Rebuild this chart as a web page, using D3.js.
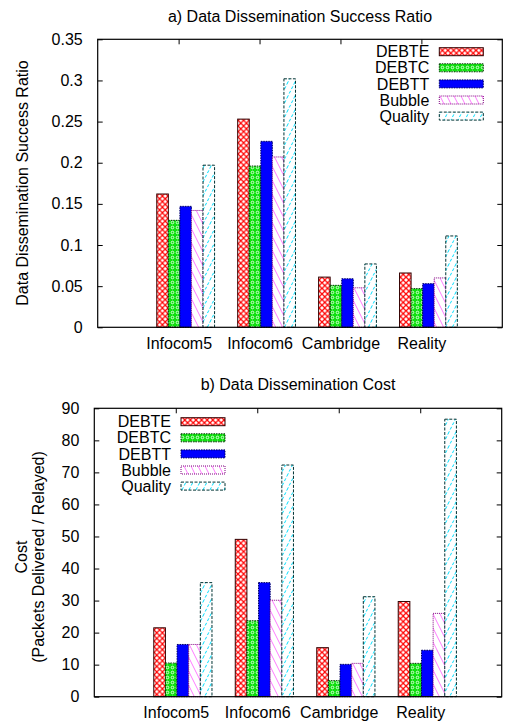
<!DOCTYPE html>
<html><head><meta charset="utf-8">
<script src="https://cdn.jsdelivr.net/npm/d3@7"></script>
<style>body{margin:0;background:#fff}svg{display:block;font-family:"Liberation Sans",Arial,sans-serif}</style>
</head><body><svg id="c" width="508" height="721"></svg>
<script>
const categories = ["Infocom5","Infocom6","Cambridge","Reality"];
const seriesNames = ["DEBTE","DEBTC","DEBTT","Bubble","Quality"];
// a) success ratio
const ratioDEBTE   = [0.162,0.253,0.061,0.066];
const ratioDEBTC   = [0.130,0.196,0.051,0.047];
const ratioDEBTT   = [0.147,0.226,0.059,0.053];
const ratioBubble  = [0.142,0.207,0.048,0.060];
const ratioQuality = [0.197,0.302,0.077,0.111];
const ratioTicks = [0,0.05,0.1,0.15,0.2,0.25,0.3,0.35];
// b) cost
const costDEBTE   = [21.5,49.1,15.3,29.7];
const costDEBTC   = [10.5,23.7,5.0,10.4];
const costDEBTT   = [16.3,35.6,10.1,14.5];
const costBubble  = [16.3,30.1,10.4,26.0];
const costQuality = [35.6,72.3,31.2,86.6];
const costTicks = [0,10,20,30,40,50,60,70,80,90];

const svg = d3.select("#c");
const defs = svg.append("defs");

function pat(id,w,h,bg){const p=defs.append("pattern").attr("id",id).attr("patternUnits","userSpaceOnUse").attr("width",w).attr("height",h);
  p.append("rect").attr("width",w).attr("height",h).attr("fill",bg);return p;}
let p=pat("pE",5.6,5.6,"#fff");
p.append("path").attr("d","M0,0L5.6,5.6M5.6,0L0,5.6").attr("stroke","#ff0000").attr("stroke-width",1.2);
p=pat("pC",5,5,"#10e010");
p.append("circle").attr("cx",2.5).attr("cy",2.5).attr("r",1.3).attr("fill","none").attr("stroke","#fff").attr("stroke-width",0.8);
p=pat("pT",4,4,"#0000ff");
p=pat("pB",7,14,"#fff");
p.append("path").attr("d","M0,0L7,14M-7,0L0,14M7,0L14,14").attr("stroke","#ff40ff").attr("stroke-width",0.7);
p=pat("pQ",7,14,"#fff");
p.append("path").attr("d","M0,14L7,0M-7,14L0,0M7,14L14,0").attr("stroke","#00e0ff").attr("stroke-width",1).attr("stroke-dasharray","3,2");

const styles = [
  {fill:"url(#pE)", stroke:"#300", dash:null},
  {fill:"url(#pC)", stroke:"#030", dash:"1.5,1"},
  {fill:"url(#pT)", stroke:"#000060", dash:"1.5,1"},
  {fill:"url(#pB)", stroke:"#800080", dash:"1,1"},
  {fill:"url(#pQ)", stroke:"#033", dash:"3,1.5"}
];

const fmt = d => String(+d.toFixed(2));

function chart(cfg){
  const {L,R,T,B,ymax,ticks,series,title,titleY,legX,legY} = cfg;
  const g = svg.append("g");
  const x = d3.scaleLinear().domain([-1,4]).range([L,R]);
  const y = d3.scaleLinear().domain([0,ymax]).range([B,T]);
  const u = x(1)-x(0);
  g.append("text").attr("x",(L+R)/2).attr("y",titleY).attr("text-anchor","middle").attr("dy","0.35em").attr("font-size",16).text(title);
  g.append("g").attr("transform",`translate(${L},0)`).call(d3.axisLeft(y).tickValues(ticks).tickSize(-5).tickPadding(15).tickFormat(fmt))
    .call(a=>{a.select(".domain").remove();a.selectAll("text").attr("font-size",16).attr("font-family","Liberation Sans,Arial,sans-serif");});
  g.append("g").attr("transform",`translate(${R},0)`).call(d3.axisRight(y).tickValues(ticks).tickSize(-5).tickFormat(""))
    .call(a=>a.select(".domain").remove());
  g.append("g").attr("transform",`translate(0,${T})`).call(d3.axisTop(x).tickValues([0,1,2,3]).tickSize(-5).tickFormat(""))
    .call(a=>a.select(".domain").remove());
  g.append("g").attr("transform",`translate(0,${B})`).call(d3.axisBottom(x).tickValues([0,1,2,3]).tickSize(0).tickPadding(10).tickFormat(i=>categories[i]))
    .call(a=>{a.select(".domain").remove();a.selectAll("text").attr("font-size",16).attr("font-family","Liberation Sans,Arial,sans-serif");});
  series.forEach((vals,j)=>{
    const st = styles[j];
    g.append("g").selectAll("rect").data(vals).join("rect")
      .attr("x",(d,i)=>x(i-0.27+j/7)).attr("width",u/7)
      .attr("y",d=>y(d)).attr("height",d=>B-y(d))
      .attr("fill",st.fill).attr("stroke",st.stroke).attr("stroke-width",1)
      .attr("stroke-dasharray",st.dash);
  });
  g.append("rect").attr("x",L).attr("y",T).attr("width",R-L).attr("height",B-T).attr("fill","none").attr("stroke","#000").attr("stroke-width",1.2);
  const lg = g.append("g");
  seriesNames.forEach((n,j)=>{
    const cy = legY + j*16.1;
    lg.append("text").attr("x",legX-10).attr("y",cy).attr("dy","0.35em").attr("text-anchor","end").attr("font-size",16).text(n);
    const st = styles[j];
    lg.append("rect").attr("x",legX).attr("y",cy-4).attr("width",44).attr("height",8)
      .attr("fill",st.fill).attr("stroke",st.stroke).attr("stroke-width",1).attr("stroke-dasharray",st.dash);
  });
  return g;
}

chart({L:97.7,R:502.3,T:39.3,B:327.3,ymax:0.35,ticks:ratioTicks,
  series:[ratioDEBTE,ratioDEBTC,ratioDEBTT,ratioBubble,ratioQuality],
  title:"a) Data Dissemination Success Ratio",titleY:16,legX:439.3,legY:51.7});
chart({L:94.3,R:501.7,T:408.3,B:696.7,ymax:90,ticks:costTicks,
  series:[costDEBTE,costDEBTC,costDEBTT,costBubble,costQuality],
  title:"b) Data Dissemination Cost",titleY:384,legX:181,legY:421.7});

svg.append("text").attr("transform","translate(22,183) rotate(-90)").attr("text-anchor","middle").attr("dy","0.35em").attr("font-size",16).text("Data Dissemination Success Ratio");
svg.append("text").attr("transform","translate(21,557) rotate(-90)").attr("text-anchor","middle").attr("dy","0.35em").attr("font-size",16).text("Cost");
svg.append("text").attr("transform","translate(38,557) rotate(-90)").attr("text-anchor","middle").attr("dy","0.35em").attr("font-size",16).text("(Packets Delivered / Relayed)");
</script></body></html>
